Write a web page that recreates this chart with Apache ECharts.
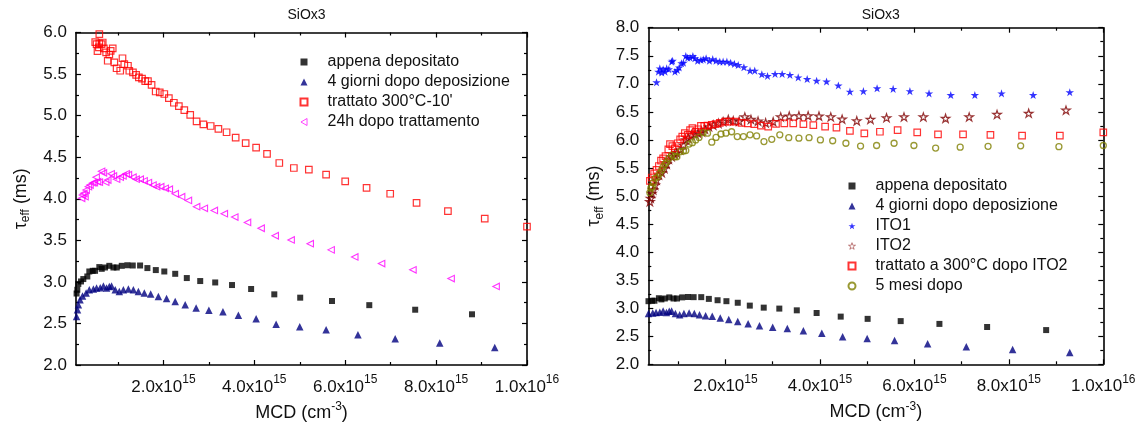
<!DOCTYPE html>
<html>
<head>
<meta charset="utf-8">
<script src="https://cdn.jsdelivr.net/npm/echarts@6/dist/echarts.min.js"></script>
<style>html,body{margin:0;padding:0;background:#fff}#c{width:1141px;height:427px}</style>
</head>
<body>
<div id="c"></div>
<script>
// ---- data (MCD in units of 1e15 cm^-3, tau_eff in ms) ----
const xTickMajor = [2, 4, 6, 8, 10];
const xTickMinor = [1, 3, 5, 7, 9];
const titleText = 'SiOx3';

const appenaDepositato = [
  [0.09,2.86],[0.106,2.905],[0.128,2.975],[0.187,3.005],[0.238,3.034],[0.326,3.065],[0.37,3.125],[0.445,3.133],
  [0.496,3.133],[0.59,3.178],[0.643,3.157],[0.716,3.173],[0.81,3.193],[0.90,3.173],[0.974,3.173],[1.084,3.193],
  [1.207,3.20],[1.326,3.197],[1.487,3.197],[1.648,3.166],[1.833,3.142],[2.02,3.125],[2.26,3.097],[2.515,3.046],
  [2.81,3.01],[3.14,2.993],[3.51,2.962],[3.93,2.914],[4.44,2.85],[5.01,2.81],[5.71,2.77],[6.53,2.72],[7.54,2.665],[8.79,2.61]
];
const quattroGiorni = [
  [0.09,2.584],[0.11,2.665],[0.13,2.725],[0.165,2.785],[0.22,2.83],[0.30,2.865],[0.37,2.905],[0.46,2.915],
  [0.53,2.925],[0.61,2.93],[0.68,2.95],[0.75,2.925],[0.81,2.945],[0.86,2.95],[0.94,2.905],[1.03,2.885],
  [1.12,2.905],[1.23,2.915],[1.34,2.905],[1.45,2.885],[1.58,2.865],[1.72,2.855],[1.89,2.825],[2.07,2.80],
  [2.26,2.765],[2.48,2.725],[2.72,2.685],[3.0,2.66],[3.31,2.64],[3.65,2.60],[4.04,2.555],[4.48,2.49],
  [5.0,2.46],[5.58,2.425],[6.28,2.365],[7.10,2.315],[8.08,2.265],[9.29,2.21]
];
const trattato300 = [
  [0.59,5.98],[0.50,5.885],[0.53,5.86],[0.59,5.87],[0.665,5.88],[0.55,5.775],[0.58,5.82],[0.64,5.86],[0.69,5.81],
  [0.74,5.76],[0.81,5.735],[0.84,5.78],[0.885,5.81],[0.775,5.66],[0.92,5.64],[0.97,5.57],[1.05,5.54],[1.10,5.69],
  [1.14,5.62],[1.22,5.60],[1.25,5.54],[1.33,5.52],[1.40,5.49],[1.46,5.46],[1.53,5.445],[1.60,5.415],[1.66,5.415],
  [1.74,5.37],[1.83,5.29],[1.92,5.28],[2.02,5.26],[2.12,5.21],[2.23,5.155],[2.34,5.115],[2.46,5.065],[2.59,5.01],
  [2.73,4.93],[2.88,4.895],[3.04,4.875],[3.21,4.84],[3.39,4.80],[3.59,4.735],[3.81,4.67],[4.04,4.615],[4.28,4.54],
  [4.55,4.43],[4.87,4.37],[5.20,4.35],[5.58,4.29],[6.00,4.21],[6.47,4.13],[6.99,4.06],[7.57,3.95],[8.26,3.85],
  [9.07,3.76],[10.0,3.665]
];
const dopo24h = [
  [0.20,4.005],[0.22,4.045],[0.25,4.065],[0.275,4.025],[0.30,4.105],[0.35,4.145],[0.385,4.165],[0.445,4.19],
  [0.48,4.195],[0.52,4.26],[0.55,4.205],[0.59,4.20],[0.64,4.33],[0.68,4.31],[0.73,4.20],[0.775,4.225],[0.85,4.30],
  [0.90,4.275],[0.97,4.235],[1.05,4.26],[1.11,4.275],[1.18,4.30],[1.23,4.29],[1.33,4.26],[1.40,4.235],[1.49,4.235],
  [1.575,4.215],[1.67,4.195],[1.77,4.165],[1.85,4.145],[1.94,4.145],[2.04,4.125],[2.13,4.115],[2.26,4.06],
  [2.40,4.025],[2.55,3.98],[2.73,3.905],[2.90,3.885],[3.12,3.86],[3.34,3.82],[3.57,3.78],[3.85,3.715],[4.15,3.645],
  [4.46,3.555],[4.81,3.505],[5.23,3.46],[5.69,3.385],[6.21,3.30],[6.80,3.22],[7.49,3.145],[8.33,3.04],[9.32,2.945]
];
const ito1 = [
  [0.54,7.027],[0.58,7.215],[0.61,7.275],[0.65,7.20],[0.68,7.26],[0.72,7.215],[0.755,7.275],[0.80,7.26],[0.86,7.395],
  [0.88,7.41],[0.93,7.215],[0.98,7.245],[1.02,7.29],[1.07,7.365],[1.11,7.375],[1.16,7.495],[1.20,7.465],[1.25,7.465],
  [1.31,7.495],[1.355,7.455],[1.41,7.41],[1.48,7.425],[1.53,7.435],[1.59,7.455],[1.66,7.41],[1.73,7.44],[1.80,7.41],
  [1.88,7.395],[1.95,7.395],[2.03,7.395],[2.11,7.375],[2.19,7.355],[2.27,7.335],[2.39,7.295],[2.52,7.235],[2.62,7.235],
  [2.77,7.17],[2.89,7.14],[3.05,7.175],[3.20,7.175],[3.365,7.157],[3.54,7.115],[3.73,7.085],[3.93,7.055],[4.14,7.04],
  [4.39,6.97],[4.635,6.86],[4.92,6.87],[5.21,6.92],[5.55,6.91],[5.905,6.87],[6.31,6.83],[6.77,6.80],[7.28,6.80],
  [7.845,6.83],[8.515,6.80],[9.29,6.85]
];
const ito2 = [
  [0.40,4.90],[0.415,4.96],[0.44,5.05],[0.47,5.11],[0.51,5.195],[0.54,5.285],[0.59,5.375],[0.65,5.415],[0.705,5.49],
  [0.755,5.57],[0.80,5.655],[0.86,5.70],[0.92,5.745],[0.965,5.77],[1.04,5.82],[1.11,5.91],[1.16,6.0],[1.21,6.03],
  [1.28,6.09],[1.355,6.105],[1.42,6.12],[1.50,6.145],[1.565,6.19],[1.65,6.235],[1.74,6.265],[1.85,6.295],[1.95,6.325],
  [2.06,6.365],[2.165,6.34],[2.29,6.335],[2.41,6.41],[2.54,6.365],[2.69,6.335],[2.85,6.305],[3.01,6.325],[3.17,6.41],
  [3.35,6.425],[3.555,6.43],[3.75,6.43],[3.98,6.425],[4.23,6.41],[4.47,6.37],[4.78,6.34],[5.07,6.365],[5.41,6.395],
  [5.78,6.41],[6.19,6.41],[6.66,6.385],[7.16,6.41],[7.75,6.455],[8.42,6.475],[9.21,6.53]
];
const trattatoDopoIto2 = [
  [0.40,5.27],[0.44,5.33],[0.49,5.405],[0.54,5.465],[0.59,5.535],[0.635,5.63],[0.68,5.67],[0.73,5.71],[0.79,5.83],
  [0.825,5.925],[0.875,5.89],[0.93,5.85],[0.99,5.94],[1.04,6.01],[1.085,6.06],[1.14,6.12],[1.20,6.09],[1.25,6.175],
  [1.30,6.21],[1.37,6.145],[1.42,6.19],[1.48,6.25],[1.55,6.25],[1.62,6.255],[1.71,6.27],[1.79,6.28],[1.88,6.305],
  [1.99,6.325],[2.095,6.325],[2.215,6.325],[2.34,6.305],[2.47,6.295],[2.61,6.28],[2.75,6.255],[2.905,6.235],[3.07,6.285],
  [3.245,6.295],[3.435,6.295],[3.65,6.28],[3.86,6.265],[4.11,6.235],[4.35,6.22],[4.635,6.16],[4.94,6.115],[5.27,6.145],
  [5.645,6.175],[6.06,6.135],[6.50,6.10],[7.03,6.10],[7.61,6.09],[8.28,6.075],[9.08,6.075],[10.0,6.135]
];
const cinqueMesi = [
  [0.40,5.06],[0.42,5.14],[0.45,5.165],[0.47,5.235],[0.51,5.315],[0.565,5.345],[0.61,5.405],[0.65,5.465],[0.68,5.52],
  [0.72,5.57],[0.755,5.61],[0.80,5.67],[0.86,5.73],[0.92,5.70],[0.97,5.70],[1.04,5.79],[1.11,5.80],[1.16,5.81],
  [1.23,5.925],[1.30,5.95],[1.37,6.0],[1.44,6.045],[1.53,6.13],[1.62,6.12],[1.71,5.96],[1.80,6.045],[1.905,6.105],
  [2.01,6.12],[2.13,6.145],[2.25,6.06],[2.38,6.06],[2.52,6.09],[2.66,6.07],[2.815,5.97],[2.98,6.01],[3.15,6.09],
  [3.34,6.04],[3.555,6.03],[3.77,6.04],[4.01,6.0],[4.27,5.985],[4.55,5.94],[4.86,5.89],[5.20,5.90],[5.57,5.94],
  [5.99,5.90],[6.45,5.855],[6.97,5.87],[7.56,5.885],[8.25,5.895],[9.06,5.88],[10.0,5.90]
];

const legendLeft = ['appena depositato','4 giorni dopo deposizione',"trattato 300°C-10'",'24h dopo trattamento'];
const legendRight = ['appena depositato','4 giorni dopo deposizione','ITO1','ITO2','trattato a 300°C dopo ITO2','5 mesi dopo'];

// ---- styling / layout ----
const FONT = 'Liberation Sans, Arial, sans-serif';
const STAR = 'path://M50,0 L61.2,34.5 L97.6,34.5 L68.2,55.9 L79.4,90.5 L50,69.1 L20.6,90.5 L31.8,55.9 L2.4,34.5 L38.8,34.5 Z';
const LEFT_TRI = 'path://M0,50 L87,0 L87,100 Z';
const grids = [
  {left: 76, top: 32.5, width: 451, height: 332.5},
  {left: 648.3, top: 27.7, width: 455, height: 336.6}
];
const xMin = [0.077, 0.366];
const yRange = [[2, 6], [2, 8]];
const lineStyle = {color: '#000', width: 1.6};

function xFmt(v) {
  const e = v >= 10 ? 16 : 15;
  const m = v >= 10 ? v / 10 : v;
  return m.toFixed(1) + 'x10{sup|' + e + '}';
}

const xAxes = [], yAxes = [];
[0, 1].forEach(g => {
  const base = {gridIndex: g, type: 'value', min: xMin[g], max: 10, splitLine: {show: false}};
  xAxes.push(Object.assign({}, base, {
    position: 'bottom',
    axisLine: {show: true, lineStyle},
    axisTick: {show: true, inside: true, length: 5, lineStyle: {color: '#000', width: 1.2}, customValues: xTickMajor},
    axisLabel: {
      show: true, customValues: xTickMajor, formatter: xFmt, margin: 9,
      color: '#111', fontFamily: FONT, fontSize: 17,
      rich: {sup: {fontSize: 12, fontFamily: FONT, color: '#111', padding: [0, 0, 15, 0]}}
    },
    name: 'MCD (cm{sup|-3})', nameLocation: 'middle', nameGap: 34,
    nameTextStyle: {color: '#111', fontFamily: FONT, fontSize: 18,
      rich: {sup: {fontSize: 12, fontFamily: FONT, color: '#111', padding: [0, 0, 12, 0]}}}
  }));
  xAxes.push(Object.assign({}, base, {
    position: 'bottom', axisLine: {show: false},
    axisTick: {show: true, inside: true, length: 3, lineStyle: {color: '#000', width: 1.2}, customValues: xTickMinor},
    axisLabel: {show: false}
  }));
  xAxes.push(Object.assign({}, base, {
    position: 'top', axisLine: {show: true, lineStyle},
    axisTick: {show: true, inside: true, length: 5, lineStyle: {color: '#000', width: 1.2}, customValues: xTickMajor},
    axisLabel: {show: false}
  }));
  xAxes.push(Object.assign({}, base, {
    position: 'top', axisLine: {show: false},
    axisTick: {show: true, inside: true, length: 3, lineStyle: {color: '#000', width: 1.2}, customValues: xTickMinor},
    axisLabel: {show: false}
  }));
  const ybase = {gridIndex: g, type: 'value', min: yRange[g][0], max: yRange[g][1], interval: 0.5, splitLine: {show: false},
    axisLine: {show: true, lineStyle},
    axisTick: {show: true, inside: true, length: 5, lineStyle: {color: '#000', width: 1.2}},
    minorTick: {show: true, splitNumber: 2, length: 3, lineStyle: {color: '#000', width: 1.2}},
    minorSplitLine: {show: false}};
  yAxes.push(Object.assign({}, ybase, {
    position: 'left',
    axisLabel: {show: true, formatter: v => v.toFixed(1), margin: 9, color: '#111', fontFamily: FONT, fontSize: 17},
    name: 'τ{sub|eff} (ms)', nameLocation: 'middle', nameGap: g === 0 ? 44 : 43, nameRotate: 90,
    nameTextStyle: {color: '#111', fontFamily: FONT, fontSize: 18,
      rich: {sub: {fontSize: 12, fontFamily: FONT, color: '#111', padding: [10, 0, 0, 0]}}}
  }));
  yAxes.push(Object.assign({}, ybase, {position: 'right', axisLabel: {show: false}}));
});

function sc(name, data, g, style) {
  return Object.assign({
    name, type: 'scatter', data, xAxisIndex: g * 4, yAxisIndex: g * 2, clip: true, symbolKeepAspect: true
  }, style);
}
const sBlack = {symbol: 'rect', symbolSize: 6, itemStyle: {color: '#000'}};
const sNavy = {symbol: 'triangle', symbolSize: 7.5, itemStyle: {color: '#000080'}};
const sRedOpen = {symbol: 'rect', symbolSize: 6.5, itemStyle: {color: 'rgba(255,255,255,0)', borderColor: '#ff0000', borderWidth: 1.2}};
const sMagenta = {symbol: 'triangle', symbolSize: 6.5, symbolRotate: 90, itemStyle: {color: 'rgba(255,255,255,0)', borderColor: '#ff00ff', borderWidth: 1.1}};
const sBlueStar = {symbol: STAR, symbolSize: 8.5, itemStyle: {color: '#0000ff'}};
const sRedStar = {symbol: STAR, symbolSize: 8.5, itemStyle: {color: 'rgba(255,255,255,0)', borderColor: '#800000', borderWidth: 1.2}};
const sOlive = {symbol: 'circle', symbolSize: 6, itemStyle: {color: 'rgba(255,255,255,0)', borderColor: '#808000', borderWidth: 1.3}};

const series = [
  sc(legendLeft[0], appenaDepositato, 0, sBlack),
  sc(legendLeft[1], quattroGiorni, 0, sNavy),
  sc(legendLeft[2], trattato300, 0, sRedOpen),
  sc(legendLeft[3], dopo24h, 0, sMagenta),
  sc(legendRight[0], appenaDepositato, 1, sBlack),
  sc(legendRight[1], quattroGiorni, 1, sNavy),
  sc(legendRight[2], ito1, 1, sBlueStar),
  sc(legendRight[3], ito2, 1, sRedStar),
  sc(legendRight[4], trattatoDopoIto2, 1, sRedOpen),
  sc(legendRight[5], cinqueMesi, 1, sOlive)
];

const legendCommon = {orient: 'vertical', itemWidth: 7, itemHeight: 7, itemGap: 4, selectedMode: false,
  symbolKeepAspect: true,
  textStyle: {color: '#111', fontFamily: FONT, fontSize: 16, lineHeight: 16, padding: [0, 0, 0, 15]}};

const legendLeftData = legendLeft.map(n => n === legendLeft[3]
  ? {name: n, icon: LEFT_TRI, itemStyle: {color: 'rgba(255,255,255,0)', borderColor: '#ff00ff', borderWidth: 0.9}}
  : {name: n});
const legendRightData = legendRight.map(n => n === 'ITO2' ? {name: n, itemStyle: {borderWidth: 0.6}} : {name: n});

const option = {
  animation: false,
  backgroundColor: '#fff',
  title: [
    {text: titleText, left: 301.5, top: 3, textAlign: 'center', textStyle: {color: '#111', fontFamily: FONT, fontSize: 14, fontWeight: 'normal'}},
    {text: titleText, left: 875.8, top: 3, textAlign: 'center', textStyle: {color: '#111', fontFamily: FONT, fontSize: 14, fontWeight: 'normal'}}
  ],
  legend: [
    Object.assign({}, legendCommon, {left: 294.5, top: 49, data: legendLeftData}),
    Object.assign({}, legendCommon, {left: 842.5, top: 173, data: legendRightData})
  ],
  grid: grids,
  xAxis: xAxes,
  yAxis: yAxes,
  series
};
const chart = echarts.init(document.getElementById('c'), null, {renderer: 'canvas'});
chart.setOption(option);
</script>
</body>
</html>
